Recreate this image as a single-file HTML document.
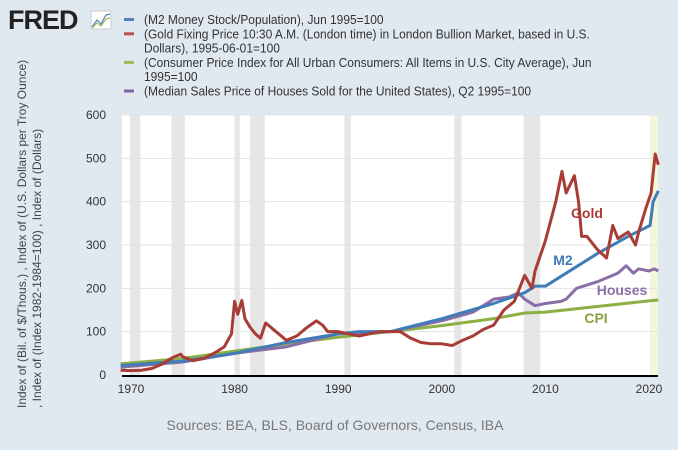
<!DOCTYPE html>
<html><head><meta charset="utf-8"><style>
body{margin:0;background:#e1e9f0;font-family:"Liberation Sans",sans-serif;}
svg{display:block}
</style></head><body>
<svg width="678" height="450">
<rect width="678" height="450" fill="#e1e9f0"/>
<g>
<text x="8" y="29" font-size="27" font-weight="bold" fill="#222" font-family="Liberation Sans, sans-serif" letter-spacing="-1">FRED</text>
<rect x="91" y="11" width="20" height="18" fill="#fff" stroke="#ccc"/>
<polyline points="92,27 97,20 101,24 106,15 110,14" fill="none" stroke="#4f81bd" stroke-width="1.2"/>
<polyline points="92,28 97,23 101,26 106,19 110,18" fill="none" stroke="#9bbb59" stroke-width="1.2"/>
</g>
<g id="legend" font-size="13" fill="#333" font-family="Liberation Sans, sans-serif" transform="scale(0.92,1)">
</g>
<rect x="122" y="115" width="536" height="260" fill="#fff"/>
<g id="rec"></g>
<g id="grid"></g>
<g id="series"></g>
<line x1="122" y1="376" x2="658" y2="376" stroke="#000" stroke-width="2"/>
<g id="ticks" font-size="12" fill="#333"></g>
<g font-size="12" fill="#444">
<text transform="translate(26,408) rotate(-90)">Index of (Bil. of $/Thous.) , Index of (U.S. Dollars per Troy Ounce)</text>
<text transform="translate(41,408) rotate(-90)">, Index of (Index 1982-1984=100) , Index of (Dollars)</text>
</g>
<text x="335" y="430" text-anchor="middle" font-size="14" fill="#777">Sources: BEA, BLS, Board of Governors, Census, IBA</text>
<g font-size="14" font-weight="bold">
<text x="587" y="218" fill="#a83c36" text-anchor="middle">Gold</text>
<text x="563" y="265" fill="#3f7cb8" text-anchor="middle">M2</text>
<text x="622" y="295" fill="#8a6fa6" text-anchor="middle">Houses</text>
<text x="596" y="323" fill="#84a33e" text-anchor="middle">CPI</text>
</g>
</svg>
<script>
const yTicks=[0,100,200,300,400,500,600];
const xTicks=[1970,1980,1990,2000,2010,2020];
const recStart=[1969.9,1973.9,1980.0,1981.5,1990.6,2001.2,2007.9];
const recEnd=[1970.9,1975.2,1980.5,1982.9,1991.2,2001.9,2009.5];
const goldYears=[1969,1970,1971,1972,1973,1974,1974.8,1975,1976,1977,1978,1979,1979.7,1980.0,1980.3,1980.7,1981,1981.5,1982,1982.5,1983,1983.5,1984,1985,1985.5,1986,1987,1987.9,1988.5,1989,1990,1991,1992,1993,1994,1995,1996,1997,1998,1999,2000,2001,2002,2003,2004,2005,2006,2007,2008,2008.7,2009,2010,2011,2011.6,2012,2012.8,2013.2,2013.5,2014,2015,2015.9,2016.5,2017,2018,2018.7,2019,2019.7,2020.2,2020.6,2020.9];
const goldValues=[11,10,11,15,25,40,48,42,33,38,50,65,95,170,140,172,130,110,95,85,120,110,100,80,85,90,110,125,115,100,100,95,90,95,100,100,100,85,75,72,72,68,80,90,105,115,150,170,230,200,240,310,400,470,420,460,400,320,320,290,270,345,315,330,300,330,385,420,510,485];
const m2Years=[1969,1975,1980,1985,1990,1992,1995,2000,2005,2008,2009,2010,2012,2015,2018,2020.1,2020.4,2020.9];
const m2Values=[22,32,50,75,95,100,100,130,165,190,205,205,235,280,320,345,400,425];
const cpiYears=[1969,1975,1980,1985,1990,1995,2000,2005,2008,2010,2015,2020,2020.9];
const cpiValues=[26,38,55,72,87,100,114,130,143,145,158,171,173];
const houseYears=[1969,1975,1980,1985,1990,1995,2000,2003,2005,2006.5,2007.4,2008,2009,2010,2011.5,2012,2013,2015,2016,2017,2017.8,2018.5,2019,2020,2020.5,2020.9];
const houseValues=[18,30,50,65,95,100,125,145,175,180,190,175,160,165,170,175,200,215,225,235,252,235,245,240,245,240];
const NS='http://www.w3.org/2000/svg';
const X=t=>131+(t-1970)*10.36;
const Y=v=>375-v*0.4333;
function mk(tag,attrs,parent){const e=document.createElementNS(NS,tag);for(const k in attrs)e.setAttribute(k,attrs[k]);parent.appendChild(e);return e;}
const rec=document.getElementById('rec');
for(let i=0;i<recStart.length;i++){
 const r=mk('rect',{x:X(recStart[i]),y:115,width:X(recEnd[i])-X(recStart[i]),height:260,fill:'#e6e6e6'},rec);
 
 
}
const yb=mk('rect',{x:X(2020.1),y:115,width:658-X(2020.1),height:260,fill:'#f5f5dc'},rec);


const grid=document.getElementById('grid'),ticks=document.getElementById('ticks');
yTicks.forEach(v=>{
 if(v>0){const g=mk('line',{x1:122,x2:658,y1:Y(v),y2:Y(v),stroke:'#e3e3e3'},grid);
 
 }
 const t=mk('text',{x:106,y:Y(v)+4,'text-anchor':'end'},ticks);t.textContent=v;
 
 
});
xTicks.forEach(v=>{
 const t=mk('text',{x:X(v),y:393,'text-anchor':'middle'},ticks);t.textContent=v;
 
 
});
const ser=document.getElementById('series');
function line(xs,vs,color,name){
 const p=mk('polyline',{points:xs.map((t,i)=>X(t)+','+Y(vs[i])).join(' '),fill:'none',stroke:color,'stroke-width':3,'stroke-linejoin':'round'},ser);
 
 
}
line(cpiYears,cpiValues,'#8cb043','cpi-line');
line(houseYears,houseValues,'#8a6fa6','houses-line');
line(m2Years,m2Values,'#3f7cb8','m2-line');
line(goldYears,goldValues,'#a83c36','gold-line');
const lg=document.getElementById('legend');
const items=[['#4f81bd',['(M2 Money Stock/Population), Jun 1995=100']],['#c0504d',['(Gold Fixing Price 10:30 A.M. (London time) in London Bullion Market, based in U.S.','Dollars), 1995-06-01=100']],['#9bbb59',['(Consumer Price Index for All Urban Consumers: All Items in U.S. City Average), Jun','1995=100']],['#8064a2',['(Median Sales Price of Houses Sold for the United States), Q2 1995=100']]];
let yy=24;
items.forEach(([c,lines])=>{
 const sw=mk('rect',{x:124/0.92,y:yy-6,width:10/0.92,height:3,fill:c},lg);
 
 
 lines.forEach(l=>{const t=mk('text',{x:144/0.92,y:yy},lg);t.textContent=l;
 
 
 yy+=14.3;});
});
</script>
</body></html>
